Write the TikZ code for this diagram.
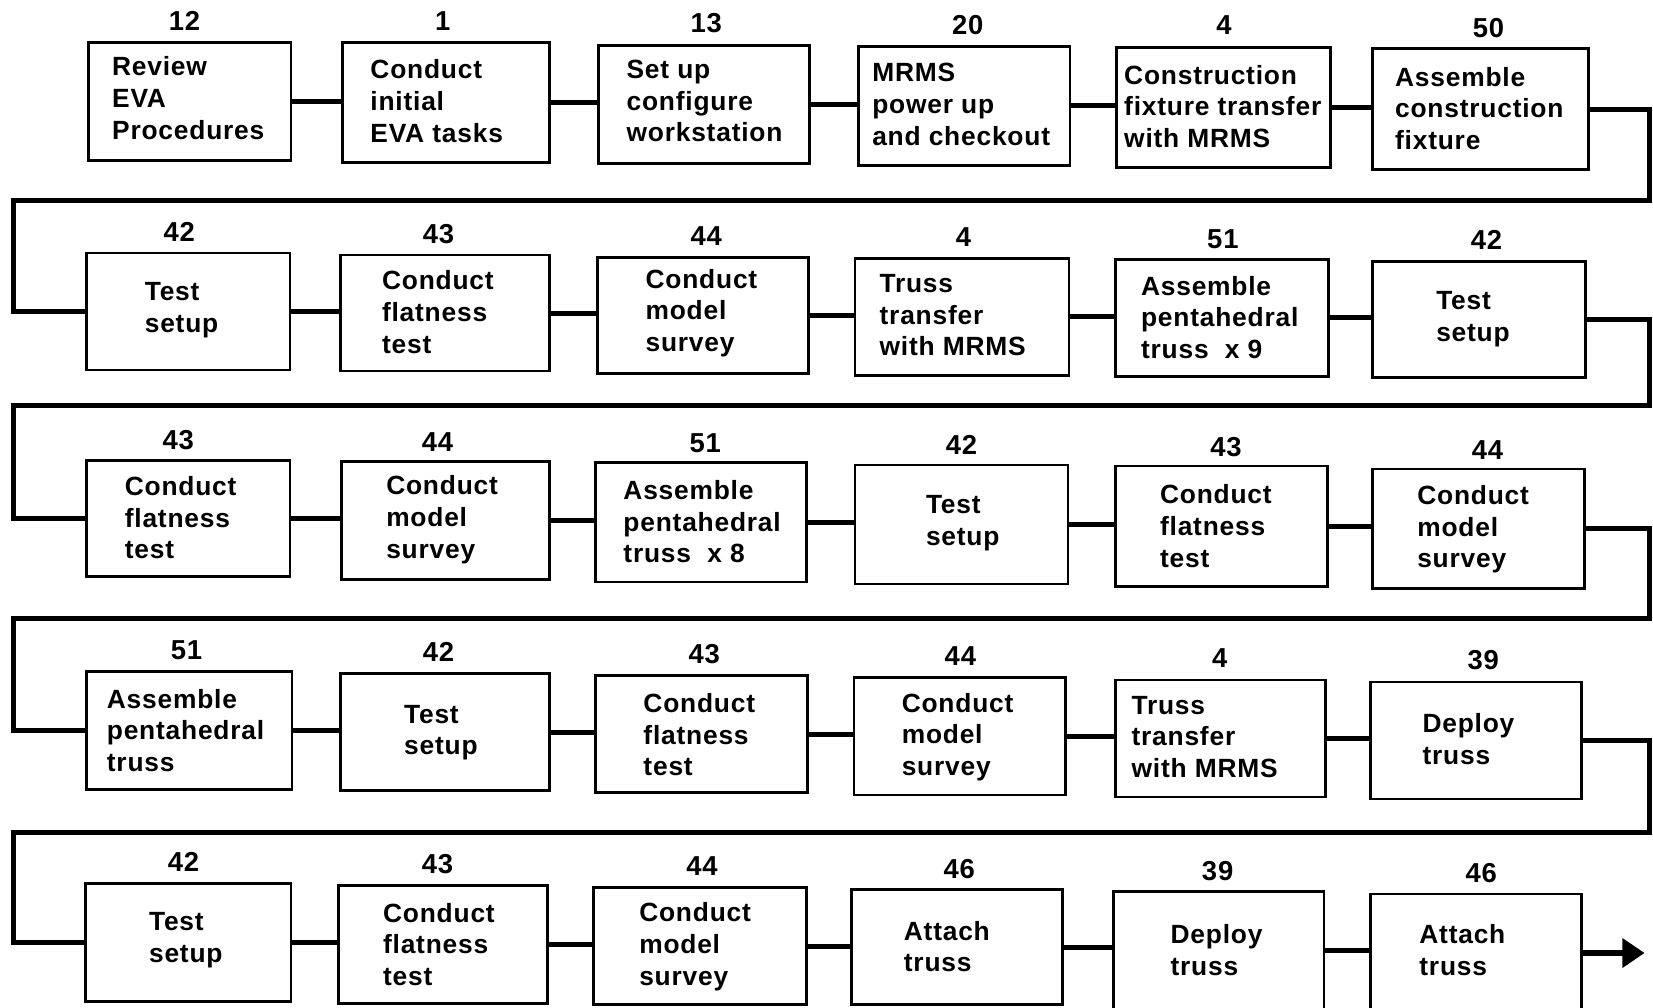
\documentclass[tikz,border=0pt]{standalone}
\usepackage{fontspec}
\setmainfont{Liberation Sans}
\newfontfamily\lblfont[LetterSpace=3]{Liberation Sans}
\usetikzlibrary{arrows.meta}
\tikzset{
  box/.style={draw, line width=1.3pt, inner sep=0pt, outer sep=0pt},
  txt/.style={font=\lblfont\bfseries\fontsize{12.5}{15}\selectfont, align=left, inner sep=0pt, anchor=west},
  num/.style={font=\lblfont\bfseries\fontsize{13}{15}\selectfont, inner sep=0pt},
  link/.style={line width=2.4pt},
}
\newcommand{\mkbox}[8]{%
  \node[box, minimum width={(#4-#2)*0.5pt}, minimum height={(#5-#3)*0.5pt}] (#1) at ({(#2+#4)/2},{(#3+#5)/2}) {};
  \node[num] (#1n) at (#7,#8) {#6};}
\newcommand{\mktext}[4]{\node[txt] (#1t) at (#2,#3) {#4};}
\begin{document}
\begin{tikzpicture}[x=0.5pt,y=-0.5pt]
\useasboundingbox (0,0) rectangle (1568,956);
\clip (0,0) rectangle (1568,956);
% row 1
\mkbox{b1}{84}{40}{276}{152}{12}{175}{20}
\mkbox{b2}{325}{40}{521}{154}{1}{420}{20}
\mkbox{b3}{568}{43}{768}{155}{13}{670}{22}
\mkbox{b4}{814}{44}{1015}{157}{20}{918}{24}
\mkbox{b5}{1059}{45}{1262}{159}{4}{1161}{24}
\mkbox{b6}{1302}{46}{1507}{161}{50}{1412}{27}
\mktext{b1}{106}{93}{Review\\EVA\\Procedures}
\mktext{b2}{351}{96}{Conduct\\initial\\EVA tasks}
\mktext{b3}{594}{96}{Set up\\configure\\workstation}
\mktext{b4}{827}{99}{MRMS\\power up\\and checkout}
\mktext{b5}{1066}{101}{Construction\\fixture transfer\\with MRMS}
\mktext{b6}{1323}{103}{Assemble\\construction\\fixture}
% row 2
\mkbox{b7}{82}{240}{275}{351}{42}{170}{220}
\mkbox{b8}{323}{242}{521}{352}{43}{416}{222}
\mkbox{b9}{567}{244}{767}{354}{44}{670}{224}
\mkbox{b10}{811}{245}{1014}{356}{4}{914}{225}
\mkbox{b11}{1058}{246}{1260}{357}{51}{1160}{227}
\mkbox{b12}{1302}{248}{1504}{358}{42}{1410}{228}
\mktext{b7}{137}{294}{Test\\setup}
\mktext{b8}{362}{296}{Conduct\\flatness\\test}
\mktext{b9}{612}{297}{Conduct\\model\\survey}
\mktext{b10}{834}{299}{Truss\\transfer\\with MRMS}
\mktext{b11}{1082}{301}{Assemble\\pentahedral\\truss \ x 9}
\mktext{b12}{1362}{303}{Test\\setup}
% row 3
\mkbox{b13}{82}{437}{275}{547}{43}{169}{417}
\mkbox{b14}{324}{438}{521}{550}{44}{415}{419}
\mkbox{b15}{565}{439}{765}{552}{51}{669}{420}
\mkbox{b16}{811}{441}{1013}{554}{42}{912}{422}
\mkbox{b17}{1058}{442}{1259}{556}{43}{1163}{424}
\mkbox{b18}{1302}{445}{1503}{558}{44}{1411}{427}
\mktext{b13}{118}{491}{Conduct\\flatness\\test}
\mktext{b14}{366}{493}{Conduct\\model\\survey}
\mktext{b15}{591}{495}{Assemble\\pentahedral\\truss \ x 8}
\mktext{b16}{878}{496}{Test\\setup}
\mktext{b17}{1100}{499}{Conduct\\flatness\\test}
\mktext{b18}{1344}{502}{Conduct\\model\\survey}
% row 4
\mkbox{b19}{82}{637}{277}{749}{51}{177}{617}
\mkbox{b20}{323}{639}{521}{750}{42}{416}{618}
\mkbox{b21}{565}{641}{766}{752}{43}{668}{620}
\mkbox{b22}{810}{643}{1011}{754}{44}{911}{622}
\mkbox{b23}{1058}{645}{1257}{756}{4}{1157}{624}
\mkbox{b24}{1300}{647}{1500}{758}{39}{1407}{626}
\mktext{b19}{101}{693}{Assemble\\pentahedral\\truss}
\mktext{b20}{383}{695}{Test\\setup}
\mktext{b21}{610}{697}{Conduct\\flatness\\test}
\mktext{b22}{855}{699}{Conduct\\model\\survey}
\mktext{b23}{1073}{699}{Truss\\transfer\\with MRMS}
\mktext{b24}{1349}{701}{Deploy\\truss}
% row 5
\mkbox{b25}{81}{838}{276}{950}{42}{174}{818}
\mkbox{b26}{321}{840}{519}{952}{43}{415}{820}
\mkbox{b27}{563}{842}{765}{953}{44}{666}{822}
\mkbox{b28}{808}{844}{1008}{953}{46}{910}{824}
\mkbox{b29}{1056}{846}{1256}{958}{39}{1155}{826}
\mkbox{b30}{1300}{848}{1500}{960}{46}{1405}{828}
\mktext{b25}{141}{892}{Test\\setup}
\mktext{b26}{363}{896}{Conduct\\flatness\\test}
\mktext{b27}{606}{898}{Conduct\\model\\survey}
\mktext{b28}{857}{898}{Attach\\truss}
\mktext{b29}{1110}{901}{Deploy\\truss}
\mktext{b30}{1346}{901}{Attach\\truss}
% turn points
\coordinate (r1) at (1565,190); \coordinate (l1) at (13,190);
\coordinate (r2) at (1565,385); \coordinate (l2) at (13,385);
\coordinate (r3) at (1565,587); \coordinate (l3) at (13,587);
\coordinate (r4) at (1565,790); \coordinate (l4) at (13,790);
\coordinate (fin) at (1560,904);
% connectors
\foreach \a/\b in {b1/b2,b2/b3,b3/b4,b4/b5,b5/b6,
                   b7/b8,b8/b9,b9/b10,b10/b11,b11/b12,
                   b13/b14,b14/b15,b15/b16,b16/b17,b17/b18,
                   b19/b20,b20/b21,b21/b22,b22/b23,b23/b24,
                   b25/b26,b26/b27,b27/b28,b28/b29,b29/b30}
  \draw[link] (\a.east) -- (\a.east -| \b.west);
\draw[link] (b6.east) -| (r1) -- (l1) |- (b7.west);
\draw[link] (b12.east) -| (r2) -- (l2) |- (b13.west);
\draw[link] (b18.east) -| (r3) -- (l3) |- (b19.west);
\draw[link] (b24.east) -| (r4) -- (l4) |- (b25.west);
\draw[link, -{Triangle[length=10.5pt,width=13.5pt]}] (b30.east) -- (fin);
\end{tikzpicture}
\end{document}
